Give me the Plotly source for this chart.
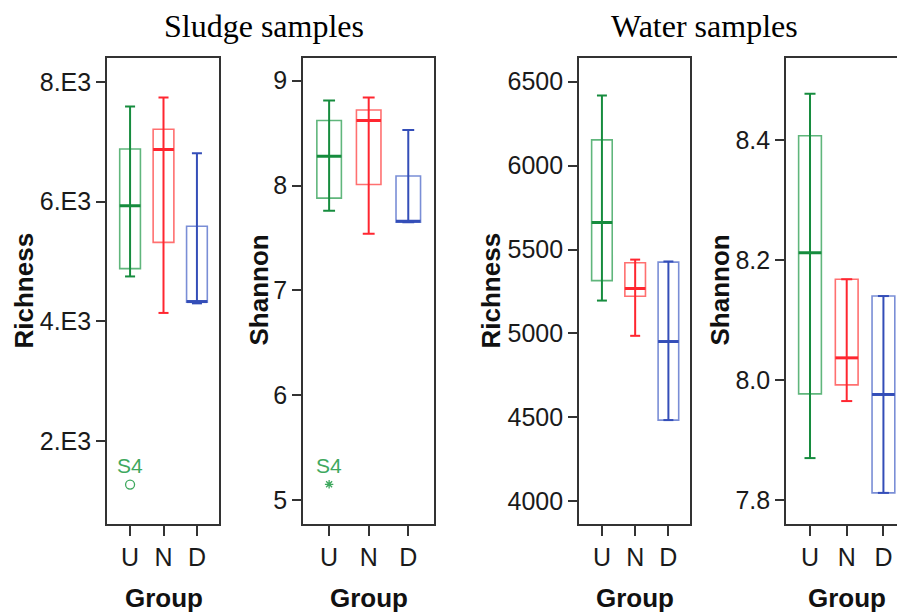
import plotly.graph_objects as go

# ---------------- data ----------------
groups = ["U", "N", "D"]
positions = [1, 2, 3]

# five-number summaries per group: lower whisker, Q1, median, Q3, upper whisker
sludge_richness_low = [4750, 4140, 4300]
sludge_richness_q1 = [4880, 5320, 4320]
sludge_richness_med = [5930, 6870, 4330]
sludge_richness_q3 = [6880, 7210, 5590]
sludge_richness_high = [7590, 7740, 6810]
sludge_richness_outlier = 1270          # sample S4, group U

sludge_shannon_low = [7.76, 7.54, 7.65]
sludge_shannon_q1 = [7.88, 8.01, 7.65]
sludge_shannon_med = [8.28, 8.62, 7.66]
sludge_shannon_q3 = [8.62, 8.72, 8.09]
sludge_shannon_high = [8.81, 8.84, 8.53]
sludge_shannon_outlier = 5.15           # sample S4, group U

water_richness_low = [5196, 4986, 4484]
water_richness_q1 = [5315, 5222, 4484]
water_richness_med = [5661, 5268, 4952]
water_richness_q3 = [6153, 5421, 5425]
water_richness_high = [6417, 5440, 5429]

water_shannon_low = [7.870, 7.965, 7.812]
water_shannon_q1 = [7.977, 7.992, 7.812]
water_shannon_med = [8.212, 8.037, 7.976]
water_shannon_q3 = [8.407, 8.168, 8.140]
water_shannon_high = [8.477, 8.168, 8.140]

# tick labels
richness_sludge_ticks = [2000, 4000, 6000, 8000]
richness_sludge_labels = ["2.E3", "4.E3", "6.E3", "8.E3"]
shannon_sludge_ticks = [5, 6, 7, 8, 9]
shannon_sludge_labels = ["5", "6", "7", "8", "9"]
richness_water_ticks = [4000, 4500, 5000, 5500, 6000, 6500]
richness_water_labels = ["4000", "4500", "5000", "5500", "6000", "6500"]
shannon_water_ticks = [7.8, 8.0, 8.2, 8.4]
shannon_water_labels = ["7.8", "8.0", "8.2", "8.4"]

# ---------------- styling ----------------
W, H = 897, 612
dark = ["rgb(22,140,62)", "rgb(255,38,48)", "rgb(52,78,184)"]
light = ["rgb(96,182,124)", "rgb(255,112,112)", "rgb(122,142,214)"]
outlier_green = "rgb(62,168,94)"
frame = "#333333"
sans = "Liberation Sans, Arial, sans-serif"
serif = "Liberation Serif, Times New Roman, serif"
BOX_W = 0.62
CAP_W = 0.30

# panel frames in pixels (left, right); all share the same top/bottom
panels = [
    dict(left=107, right=219, xr=[0.31, 3.66], yr=[620, 8410],
         ticks=richness_sludge_ticks, labels=richness_sludge_labels, title="Richness", title_x=23,
         stats=(sludge_richness_low, sludge_richness_q1, sludge_richness_med,
                sludge_richness_q3, sludge_richness_high),
         outlier=sludge_richness_outlier, symbol="circle-open", msize=9),
    dict(left=303, right=434, xr=[0.34, 3.65], yr=[4.776, 9.221],
         ticks=shannon_sludge_ticks, labels=shannon_sludge_labels, title="Shannon", title_x=258,
         stats=(sludge_shannon_low, sludge_shannon_q1, sludge_shannon_med,
                sludge_shannon_q3, sludge_shannon_high),
         outlier=sludge_shannon_outlier, symbol="asterisk-open", msize=7),
    dict(left=579, right=690, xr=[0.31, 3.65], yr=[3868, 6644],
         ticks=richness_water_ticks, labels=richness_water_labels, title="Richness", title_x=490,
         stats=(water_richness_low, water_richness_q1, water_richness_med,
                water_richness_q3, water_richness_high),
         outlier=None, symbol=None),
    dict(left=786, right=897, xr=[0.346, 3.37], yr=[7.761, 8.5375],
         ticks=shannon_water_ticks, labels=shannon_water_labels, title="Shannon", title_x=719,
         stats=(water_shannon_low, water_shannon_q1, water_shannon_med,
                water_shannon_q3, water_shannon_high),
         outlier=None, symbol=None, open_right=True),
]
TOP, BOTTOM = 57.5, 523.5
ydom = [1 - BOTTOM / H, 1 - TOP / H]

fig = go.Figure()
annotations = []
layout_axes = {}

for i, p in enumerate(panels):
    n = "" if i == 0 else str(i + 1)
    xa, ya = "x" + n, "y" + n
    low, q1, med, q3, high = p["stats"]

    for g in range(3):
        pos = positions[g]
        # box outline (lighter colour)
        fig.add_trace(go.Box(
            x=[pos], q1=[q1[g]], median=[med[g]], q3=[q3[g]],
            lowerfence=[q1[g]], upperfence=[q3[g]],
            width=BOX_W, whiskerwidth=0,
            line=dict(color=light[g], width=1.6),
            fillcolor="rgba(0,0,0,0)", boxpoints=False,
            xaxis=xa, yaxis=ya, showlegend=False, hoverinfo="skip"))
        # whisker line through the box plus end caps (darker colour)
        half = CAP_W / 2
        fig.add_trace(go.Scatter(
            x=[pos, pos, None, pos - half, pos + half, None, pos - half, pos + half],
            y=[low[g], high[g], None, low[g], low[g], None, high[g], high[g]],
            mode="lines", line=dict(color=dark[g], width=2),
            xaxis=xa, yaxis=ya, showlegend=False, hoverinfo="skip"))
        # median bar
        fig.add_trace(go.Scatter(
            x=[pos - BOX_W / 2, pos + BOX_W / 2], y=[med[g], med[g]],
            mode="lines", line=dict(color=dark[g], width=3),
            xaxis=xa, yaxis=ya, showlegend=False, hoverinfo="skip"))

    if p["outlier"] is not None:
        fig.add_trace(go.Scatter(
            x=[positions[0]], y=[p["outlier"]], mode="markers",
            marker=dict(symbol=p["symbol"], size=p["msize"], color=outlier_green,
                        line=dict(color=outlier_green, width=1.3)),
            xaxis=xa, yaxis=ya, showlegend=False, hoverinfo="skip"))
        annotations.append(dict(
            x=positions[0], y=p["outlier"], xref=xa, yref=ya, yshift=19,
            text="S4", showarrow=False,
            font=dict(family=sans, size=21, color=outlier_green)))

    xdom = [p["left"] / W, min(p["right"] / W, 1.0)]
    layout_axes["xaxis" + n] = dict(
        domain=xdom, range=p["xr"], anchor=ya,
        tickvals=positions, ticktext=groups,
        showline=True, linecolor=frame, linewidth=1.6, mirror=True,
        ticks="outside", ticklen=11, tickwidth=1.6, tickcolor=frame,
        showgrid=False, zeroline=False,
        tickfont=dict(family=sans, size=25, color="#1a1a1a"))
    layout_axes["yaxis" + n] = dict(
        domain=ydom, range=p["yr"], anchor=xa,
        tickvals=p["ticks"], ticktext=p["labels"],
        showline=True, linecolor=frame, linewidth=1.6,
        mirror=not p.get("open_right", False),
        ticks="outside", ticklen=9, tickwidth=1.6, tickcolor=frame,
        showgrid=False, zeroline=False,
        tickfont=dict(family=sans, size=25, color="#1a1a1a"))

    # axis titles
    annotations.append(dict(
        x=p["title_x"] / W, y=1 - 290.5 / H, xref="paper", yref="paper",
        text=p["title"], textangle=-90, showarrow=False,
        xanchor="center", yanchor="middle",
        font=dict(family=sans, size=26, color="#111111", weight="bold")))
    annotations.append(dict(
        x=positions[1], y=1 - 598 / H, xref=xa, yref="paper",
        text="Group", showarrow=False, xanchor="center", yanchor="middle",
        font=dict(family=sans, size=26, color="#111111", weight="bold")))

# section headings
for label, cx in [("Sludge samples", 264), ("Water samples", 704)]:
    annotations.append(dict(
        x=cx / W, y=1 - 26 / H, xref="paper", yref="paper",
        text=label, showarrow=False, xanchor="center", yanchor="middle",
        font=dict(family=serif, size=32, color="#000000")))

fig.update_layout(
    width=W, height=H,
    margin=dict(l=0, r=0, t=0, b=0, autoexpand=False),
    paper_bgcolor="white", plot_bgcolor="white",
    showlegend=False, annotations=annotations,
    **layout_axes)

fig.write_html("out.html")
